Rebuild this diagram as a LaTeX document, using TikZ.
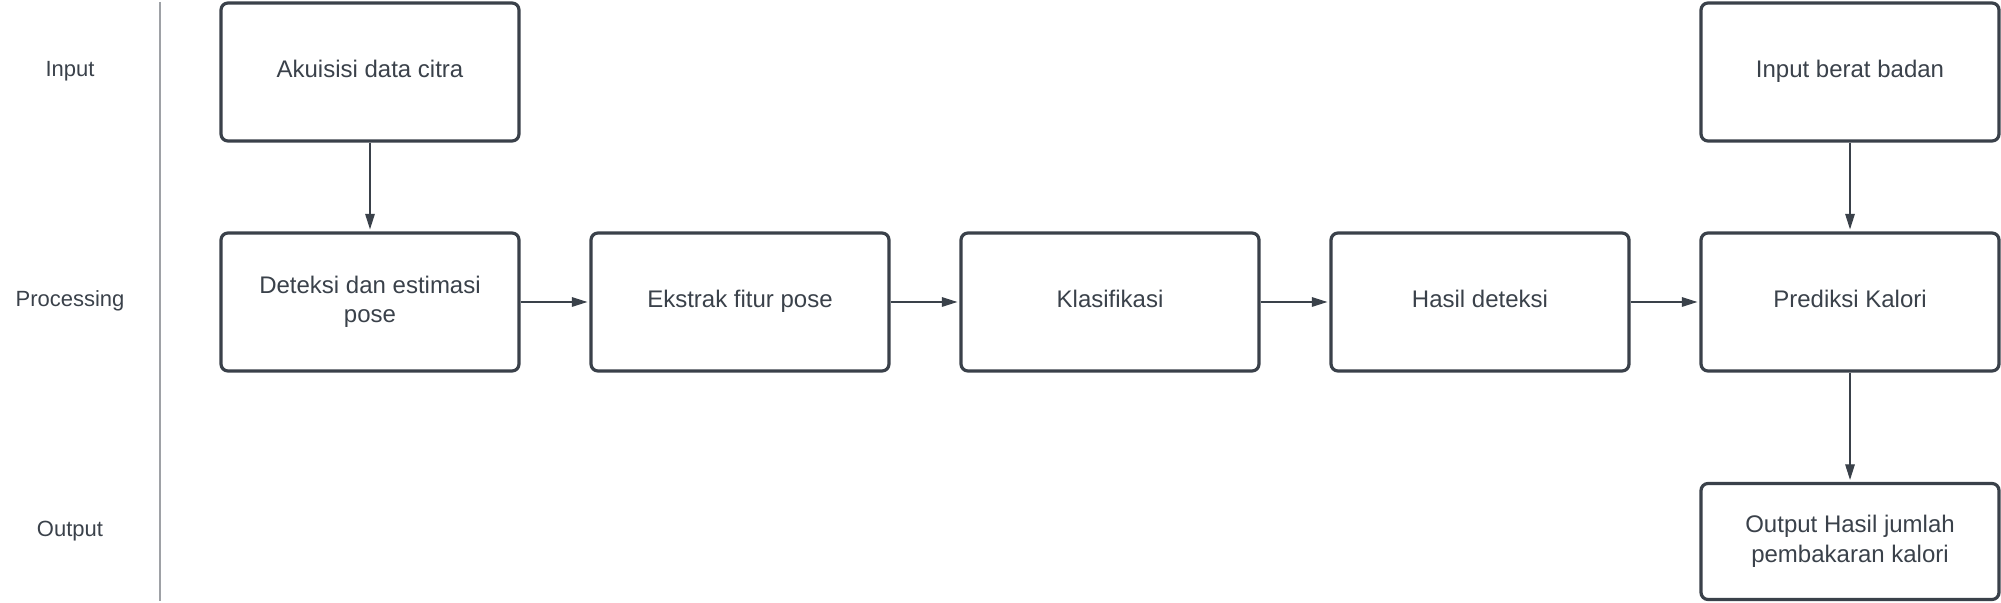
\documentclass[tikz,border=0pt]{standalone}
\usepackage{fontspec}
\setmainfont{Liberation Sans}
\usepackage{xcolor}
\usepackage{tikz}
\usetikzlibrary{arrows.meta}

\definecolor{lineclr}{HTML}{3A414A}
\definecolor{sepclr}{HTML}{9EA1A6}

\tikzset{
  procbox/.style={draw=lineclr, line width=1.6pt, rounded corners=3.5pt,
    minimum width=149pt, minimum height=69pt, inner sep=0pt, align=center,
    text=lineclr, font=\fontsize{12}{14.7}\selectfont,
    execute at begin node=\rule{0pt}{0.7\baselineskip},
    execute at end node=\rule[-0.35\baselineskip]{0pt}{0pt}},
  twoline/.style={text depth=2.5pt},
  rowlabel/.style={text=lineclr, font=\fontsize{11}{13}\selectfont,
    execute at begin node=\strut},
  flow/.style={draw=lineclr, line width=0.6pt, -{Triangle[length=7.8pt,width=4.8pt]}, shorten >=1pt}
}

\begin{document}
\begin{tikzpicture}[x=0.5pt,y=-0.5pt]
  \useasboundingbox (0,0) rectangle (2001,603);
  % row labels and separator
  \node[rowlabel] (lin) at (70,71.5) {Input};
  \node[rowlabel] (lproc) at (70,301.5) {Processing};
  \node[rowlabel] (lout) at (70,531.5) {Output};
  \draw[sepclr,line width=1pt] (160,2) coordinate (sep top) -- (160,601) coordinate (sep bot);

  % boxes
  \node[procbox] (akuisisi) at (370,72) {Akuisisi data citra};
  \node[procbox] (berat) at (1850,72) {Input berat badan};
  \node[procbox,twoline] (deteksi) at (370,302) {Deteksi dan estimasi\\pose};
  \node[procbox] (ekstrak) at (740,302) {Ekstrak fitur pose};
  \node[procbox] (klasifikasi) at (1110,302) {Klasifikasi};
  \node[procbox] (hasil) at (1480,302) {Hasil deteksi};
  \node[procbox] (prediksi) at (1850,302) {Prediksi Kalori};
  \node[procbox,twoline,minimum height=58pt] (output) at (1850,541.5) {Output Hasil jumlah\\pembakaran kalori};

  % arrows
  \draw[flow] (akuisisi) -- (deteksi);
  \draw[flow] (deteksi) -- (ekstrak);
  \draw[flow] (ekstrak) -- (klasifikasi);
  \draw[flow] (klasifikasi) -- (hasil);
  \draw[flow] (hasil) -- (prediksi);
  \draw[flow] (berat) -- (prediksi);
  \draw[flow] (prediksi) -- (output);
\end{tikzpicture}
\end{document}
